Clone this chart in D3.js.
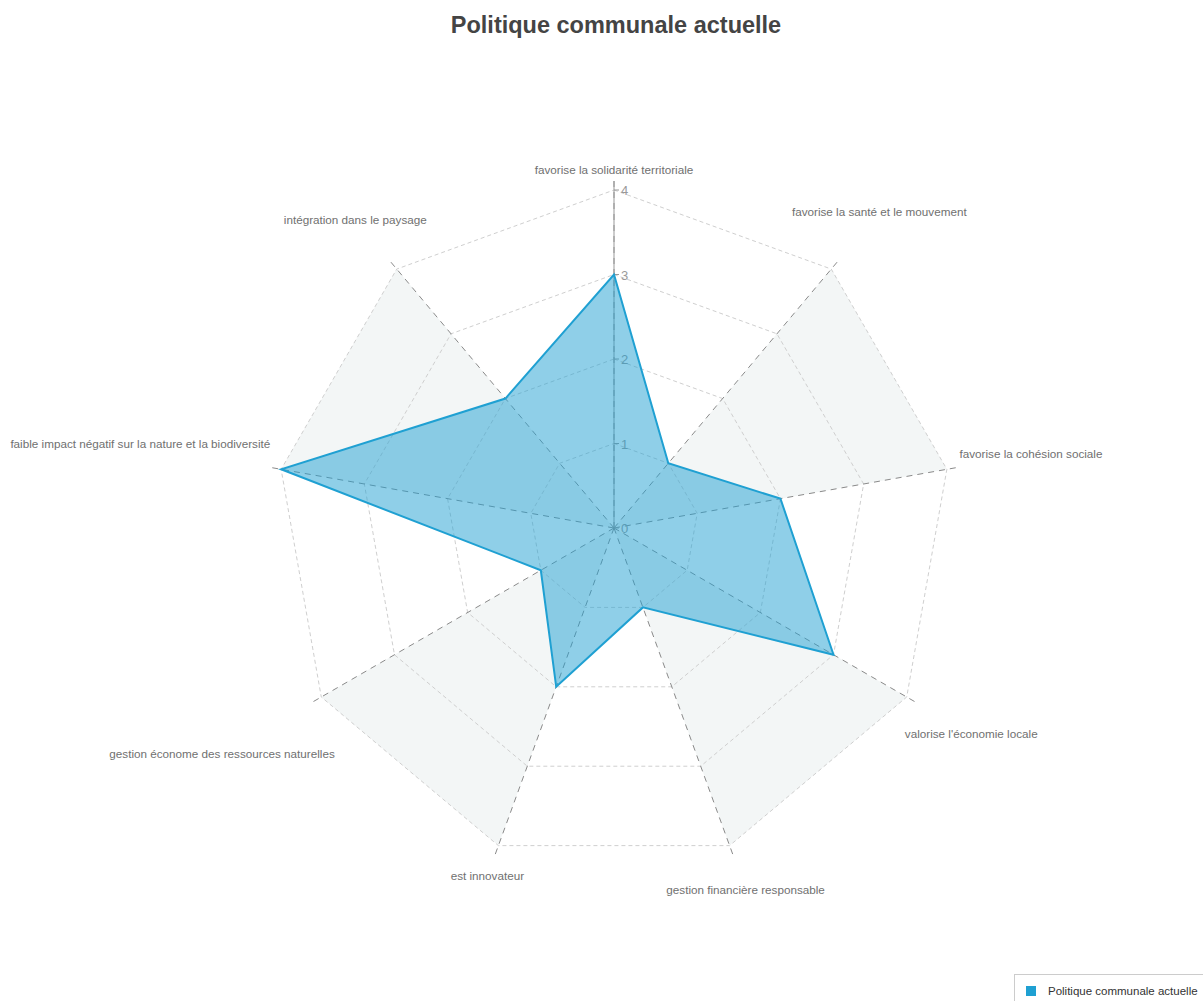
<!DOCTYPE html>
<html>
<head>
<meta charset="utf-8">
<script src="https://cdn.jsdelivr.net/npm/d3@7"></script>
<style>
  body { margin: 0; background: #fff; }
  svg { display: block; font-family: "Liberation Sans", Arial, sans-serif; }
</style>
</head>
<body>
<svg id="chart" width="1203" height="1001"></svg>
<script>
// data
var categories = [
  'favorise la solidarité territoriale',
  'favorise la santé et le mouvement',
  'favorise la cohésion sociale',
  "valorise l'économie locale",
  'gestion financière responsable',
  'est innovateur',
  'gestion économe des ressources naturelles',
  'faible impact négatif sur la nature et la biodiversité',
  'intégration dans le paysage'
];
var values = [3, 1, 2, 3, 1, 2, 1, 4, 2];
var ticks = [0, 1, 2, 3, 4];
var seriesName = 'Politique communale actuelle';

var svg = d3.select('#chart'), cx = 614, cy = 528, R = 338, n = categories.length;
var r = d3.scaleLinear().domain([0, 4]).range([0, R]);
var ang = d3.scaleLinear().domain([0, n]).range([0, 2 * Math.PI]);
function pt(i, rad) {
  var a = ang(i);
  return [Math.sin(a) * rad, -Math.cos(a) * rad];
}

svg.append('text').attr('x', 616).attr('y', 33).attr('text-anchor', 'middle')
  .attr('font-size', 23.5).attr('font-weight', 'bold').attr('fill', '#444').text(seriesName);

var g = svg.append('g').attr('transform', 'translate(' + cx + ',' + cy + ')');

// alternating sector fills
d3.range(n).filter(function (i) { return i % 2 == 1; }).forEach(function (i) {
  g.append('path')
    .attr('d', 'M0,0L' + pt(i, r(4)) + 'L' + pt(i + 1, r(4)) + 'Z')
    .attr('fill', '#f3f6f6');
});

// rings
ticks.slice(1).forEach(function (t) {
  g.append('path')
    .attr('d', d3.lineRadial().angle(function (d, i) { return ang(i); }).radius(r(t)).curve(d3.curveLinearClosed)(categories))
    .attr('fill', 'none').attr('stroke', '#cfcfcf').attr('stroke-dasharray', '4,3');
});

// spokes
d3.range(n).forEach(function (i) {
  var p = pt(i, r(4) + 9);
  g.append('line').attr('x1', 0).attr('y1', 0).attr('x2', p[0]).attr('y2', p[1])
    .attr('stroke', '#8a8a8a').attr('stroke-dasharray', '6,5');
});

// value axis on top spoke
g.append('line').attr('x1', 0).attr('y1', 0).attr('x2', 0).attr('y2', -(r(4) + 9))
  .attr('stroke', '#999');
ticks.forEach(function (t) {
  g.append('line').attr('x1', 0).attr('x2', 5).attr('y1', -r(t)).attr('y2', -r(t)).attr('stroke', '#999');
  g.append('text').attr('x', 7).attr('y', -r(t) + 5).attr('font-size', 13).attr('fill', '#999').text(t);
});

// series
g.append('path')
  .attr('d', d3.lineRadial().angle(function (d, i) { return ang(i); }).radius(function (d) { return r(d); }).curve(d3.curveLinearClosed)(values))
  .attr('fill', '#1fa0d2').attr('fill-opacity', 0.5)
  .attr('stroke', '#1fa0d2').attr('stroke-width', 2).attr('stroke-linejoin', 'miter');

// category labels
categories.forEach(function (c, i) {
  var t = g.append('text').attr('font-size', 11.7).attr('fill', '#707070').attr('text-anchor', 'middle').text(c);
  var w = t.node().getComputedTextLength(), h = 12, a = ang(i);
  var rr = r(4) + 14 + Math.abs(Math.sin(a)) * w / 2 + Math.abs(Math.cos(a)) * h / 2;
  var p = pt(i, rr);
  t.attr('x', p[0]).attr('y', p[1] + 4);
});

// legend
var lg = svg.append('g').attr('transform', 'translate(1014,974)');
lg.append('rect').attr('x', 0.5).attr('y', 0.5).attr('width', 200).attr('height', 40)
  .attr('fill', '#fff').attr('stroke', '#ccc');
lg.append('rect').attr('x', 12).attr('y', 12).attr('width', 10).attr('height', 10).attr('fill', '#1fa0d2');
lg.append('text').attr('x', 34).attr('y', 21).attr('font-size', 11.5).attr('fill', '#333').text(seriesName);
</script>
</body>
</html>
